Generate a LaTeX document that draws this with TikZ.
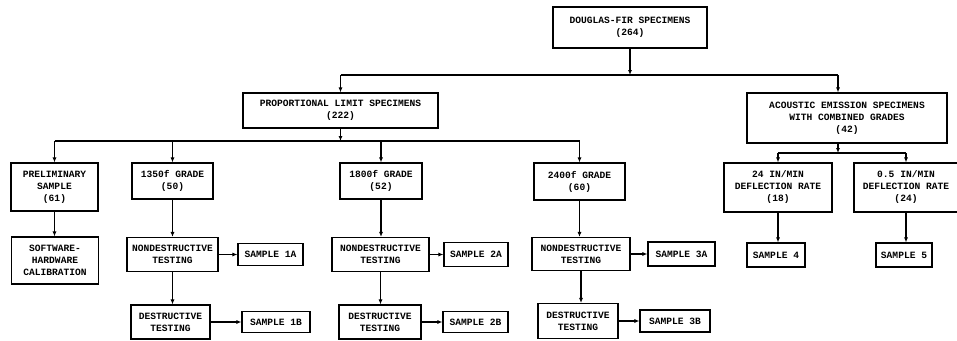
\documentclass[tikz,border=0pt]{standalone}
\usepackage{fontspec}
\setmonofont{Liberation Mono}
\usetikzlibrary{arrows.meta}
\tikzset{
  blk/.style={draw, line width=1.1pt, align=center, inner sep=0pt,
    font=\ttfamily\bfseries\fontsize{9.6}{12}\selectfont},
  arr/.style={line width=1.1pt, -{Latex[length=5pt, width=4pt]}},
  bus/.style={line width=1.1pt}
}

\begin{document}
\begin{tikzpicture}[x=1pt, y=-1pt]
		\useasboundingbox (0, 0) rectangle (957, 340);
		% The whole set of specimens
		\node [blk, minimum width=154, minimum height=41] (douglas) at (630, 27.5) {DOUGLAS-FIR SPECIMENS\\(264)};
		% The two families of specimens
		\node [blk, minimum width=195, minimum height=35] (prop) at (340.5, 110.5) {PROPORTIONAL LIMIT SPECIMENS\\(222)};
		\node [blk, minimum width=200, minimum height=50] (acoustic) at (847, 118) {ACOUSTIC EMISSION SPECIMENS\\WITH COMBINED GRADES\\(42)};
		% The bus lines
		\coordinate (busA) at (0, 75);
		\coordinate (busB) at (0, 141);
		\coordinate (busC) at (0, 153);
		\coordinate (acx) at (838, 0);
		% The preliminary sample
		\node [blk, minimum width=87, minimum height=48] (prelim) at (54.5, 187) {PRELIMINARY\\SAMPLE\\(61)};
		\node [blk, minimum width=87, minimum height=47] (software) at (55, 260.5) {SOFTWARE-\\HARDWARE\\CALIBRATION};
		% The 1350f grade
		\node [blk, minimum width=81, minimum height=36] (g1350) at (172.5, 181) {1350f GRADE\\(50)};
		\node [blk, minimum width=91, minimum height=34] (nd1) at (172.5, 254.5) {NONDESTRUCTIVE\\TESTING};
		\node [blk, minimum width=65, minimum height=22] (s1a) at (270.5, 254.5) {SAMPLE 1A};
		\node [blk, minimum width=79, minimum height=34] (d1) at (170.5, 322) {DESTRUCTIVE\\TESTING};
		\node [blk, minimum width=68, minimum height=21] (s1b) at (276, 322) {SAMPLE 1B};
		% The 1800f grade
		\node [blk, minimum width=82, minimum height=36] (g1800) at (381, 181) {1800f GRADE\\(52)};
		\node [blk, minimum width=97, minimum height=34] (nd2) at (380.5, 254.5) {NONDESTRUCTIVE\\TESTING};
		\node [blk, minimum width=64, minimum height=24] (s2a) at (476, 254.5) {SAMPLE 2A};
		\node [blk, minimum width=82, minimum height=34] (d2) at (380, 322) {DESTRUCTIVE\\TESTING};
		\node [blk, minimum width=65, minimum height=21] (s2b) at (475.5, 322) {SAMPLE 2B};
		% The 2400f grade
		\node [blk, minimum width=91, minimum height=37] (g2400) at (579.5, 181.5) {2400f GRADE\\(60)};
		\node [blk, minimum width=98, minimum height=33] (nd3) at (581, 254) {NONDESTRUCTIVE\\TESTING};
		\node [blk, minimum width=67, minimum height=24] (s3a) at (681.5, 254) {SAMPLE 3A};
		\node [blk, minimum width=80, minimum height=35] (d3) at (578, 321) {DESTRUCTIVE\\TESTING};
		\node [blk, minimum width=70, minimum height=22] (s3b) at (675, 321) {SAMPLE 3B};
		% The two deflection rates
		\node [blk, minimum width=108, minimum height=49] (r24) at (778, 187.5) {24 IN/MIN\\DEFLECTION RATE\\(18)};
		\node [blk, minimum width=58, minimum height=24] (s4) at (776, 255) {SAMPLE 4};
		\node [blk, minimum width=104, minimum height=49] (r05) at (906, 187.5) {0.5 IN/MIN\\DEFLECTION RATE\\(24)};
		\node [blk, minimum width=56, minimum height=24] (s5) at (904, 255) {SAMPLE 5};
		% First split
		\draw [arr] (douglas.south) -- (douglas.south |- busA);
		\draw [bus] (prop.north |- busA) -- (acx |- busA);
		\draw [arr] (prop.north |- busA) -- (prop.north);
		\draw [arr] (acx |- busA) -- (acx |- acoustic.north);
		% Split of the proportional limit specimens
		\draw [arr] (prop.south) -- (prop.south |- busB);
		\draw [bus] (prelim.north |- busB) -- (g2400.north |- busB);
		\draw [arr] (prelim.north |- busB) -- (prelim.north);
		\draw [arr] (g1350.north |- busB) -- (g1350.north);
		\draw [arr] (g1800.north |- busB) -- (g1800.north);
		\draw [arr] (g2400.north |- busB) -- (g2400.north);
		% Split of the acoustic emission specimens
		\draw [arr] (acx |- acoustic.south) -- (acx |- busC);
		\draw [bus] (r24.north |- busC) -- (r05.north |- busC);
		\draw [arr] (r24.north |- busC) -- (r24.north);
		\draw [arr] (r05.north |- busC) -- (r05.north);
		% The testing chains
		\draw [arr] (prelim.south) -- (prelim.south |- software.north);
		\draw [arr] (g1350.south) -- (g1350.south |- nd1.north);
		\draw [arr] (nd1.south) -- (nd1.south |- d1.north);
		\draw [arr] (nd1) -- (s1a);
		\draw [arr] (d1) -- (s1b);
		\draw [arr] (g1800.south) -- (g1800.south |- nd2.north);
		\draw [arr] (nd2.south) -- (nd2.south |- d2.north);
		\draw [arr] (nd2) -- (s2a);
		\draw [arr] (d2) -- (s2b);
		\draw [arr] (g2400.south) -- (g2400.south |- nd3.north);
		\draw [arr] (nd3.south) -- (nd3.south |- d3.north);
		\draw [arr] (nd3) -- (s3a);
		\draw [arr] (d3) -- (s3b);
		\draw [arr] (r24.south) -- (r24.south |- s4.north);
		\draw [arr] (r05.south) -- (r05.south |- s5.north);
	\end{tikzpicture}
\end{document}
